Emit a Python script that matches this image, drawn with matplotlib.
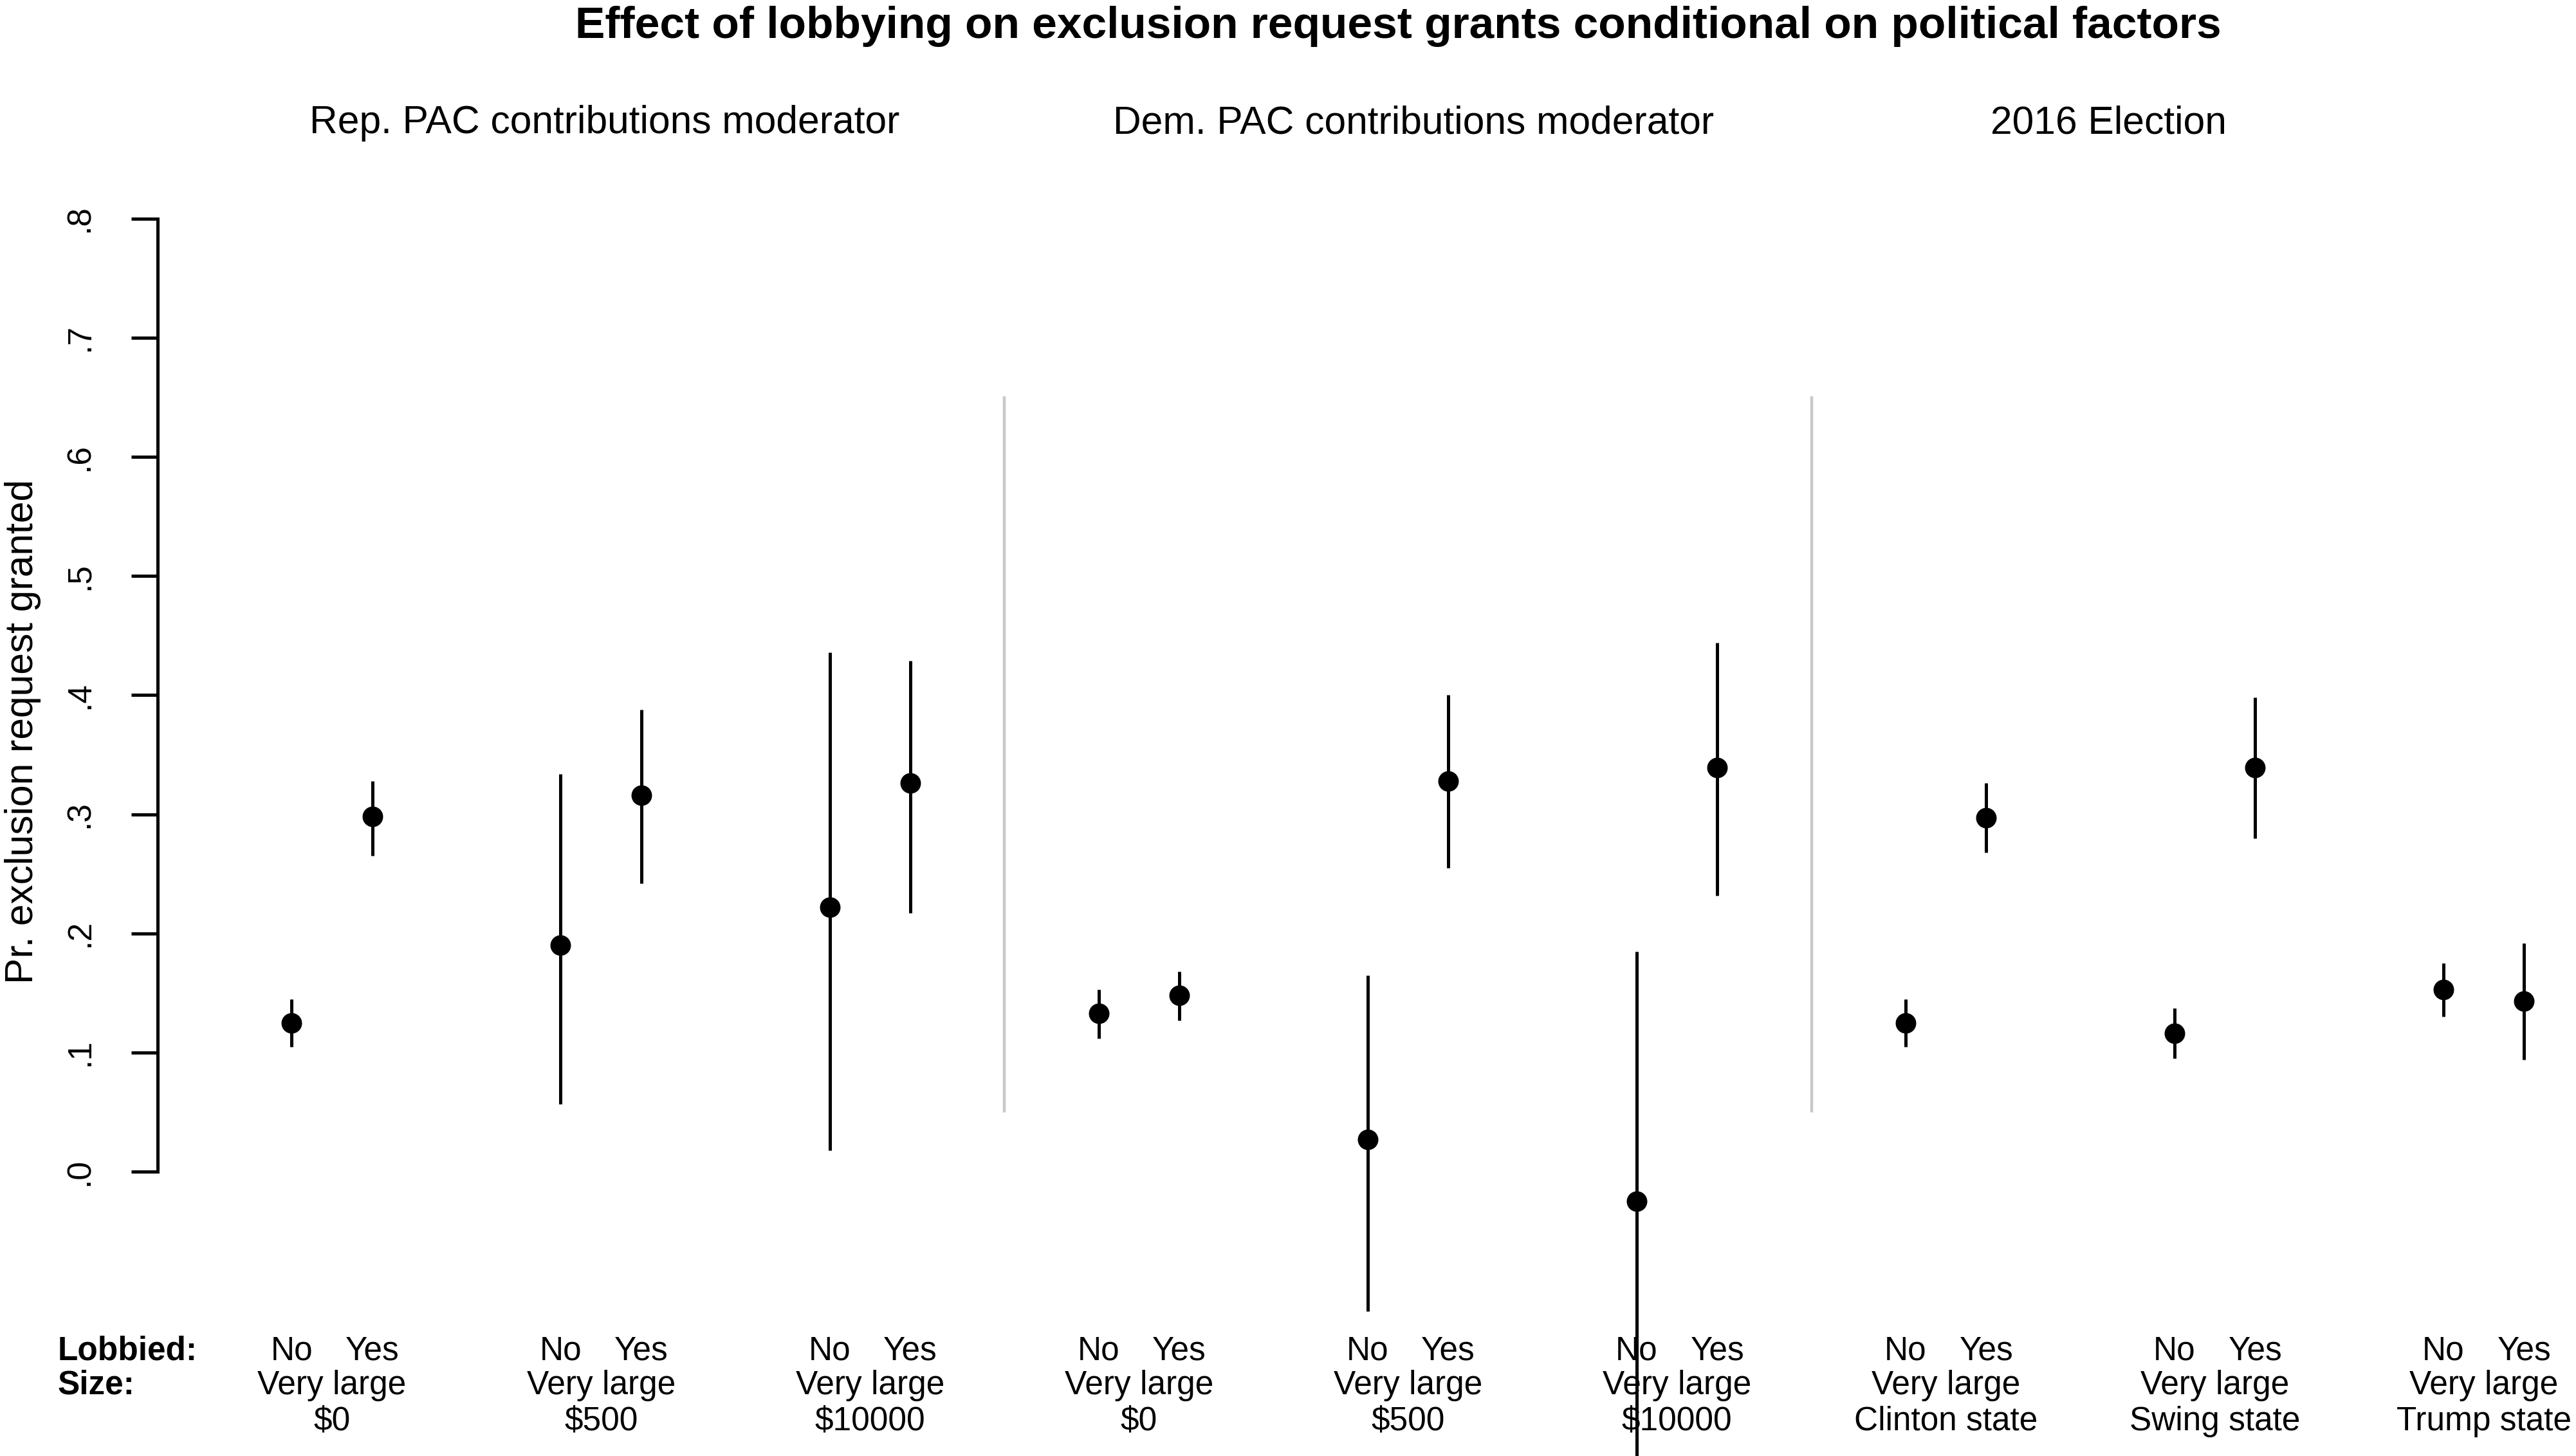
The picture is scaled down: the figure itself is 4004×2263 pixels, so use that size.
import numpy as np
import matplotlib.pyplot as plt
from matplotlib.transforms import blended_transform_factory

plt.rcParams['font.family'] = ['Liberation Sans', 'DejaVu Sans']

# Etiquetas de los paneles y de los grupos
panels = ['Rep. PAC contributions moderator',
          'Dem. PAC contributions moderator',
          '2016 Election']
groups = ['$0', '$500', '$10000',
          '$0', '$500', '$10000',
          'Clinton state', 'Swing state', 'Trump state']

# Estimaciones e intervalos (Lobbied: No)
est_no = [0.125, 0.190, 0.222, 0.133, 0.027, -0.025, 0.125, 0.116, 0.153]
lo_no = [0.105, 0.057, 0.018, 0.112, -0.117, -0.26, 0.105, 0.095, 0.130]
hi_no = [0.145, 0.334, 0.436, 0.153, 0.165, 0.185, 0.145, 0.137, 0.175]

# Estimaciones e intervalos (Lobbied: Yes)
est_yes = [0.298, 0.316, 0.326, 0.148, 0.328, 0.339, 0.297, 0.339, 0.143]
lo_yes = [0.265, 0.242, 0.217, 0.127, 0.255, 0.232, 0.268, 0.280, 0.094]
hi_yes = [0.328, 0.388, 0.429, 0.168, 0.400, 0.444, 0.326, 0.398, 0.192]

yticks = [0.0, 0.1, 0.2, 0.3, 0.4, 0.5, 0.6, 0.7, 0.8]
ytick_labels = ['.0', '.1', '.2', '.3', '.4', '.5', '.6', '.7', '.8']

W, H = 1568.0, 886.0  # medidas de referencia para colocar textos

fig = plt.figure(figsize=(20.025, 11.315), dpi=200)
ax = fig.add_axes([96 / W, 0.0, 1 - 96 / W, (H - 133) / H])

centers = np.arange(len(groups))
x_no = centers - 0.15
x_yes = centers + 0.15

# Separadores entre paneles
ax.vlines([2.5, 5.5], 0.05, 0.651, color='#c8c8c8', lw=1.6)

ax.vlines(x_no, lo_no, hi_no, color='black', lw=1.8)
ax.vlines(x_yes, lo_yes, hi_yes, color='black', lw=1.8)
ax.plot(x_no, est_no, 'o', color='black', ms=10.5)
ax.plot(x_yes, est_yes, 'o', color='black', ms=10.5)

ax.set_xlim(-0.648, 8.345)
ax.set_ylim(-0.2386, 0.8)

for s in ['top', 'right', 'bottom']:
    ax.spines[s].set_visible(False)
ax.spines['left'].set_bounds(0, 0.8)
ax.spines['left'].set_linewidth(1.8)
ax.set_xticks([])
ax.set_yticks(yticks)
ax.set_yticklabels(ytick_labels, rotation=90, va='center')
ax.tick_params(axis='y', length=14.7, width=1.8, pad=20, labelsize=18.5)

# Textos inferiores
tr = blended_transform_factory(ax.transData, fig.transFigure)
fs = 18.5
fig.text(35 / W, 1 - 822 / H, 'Lobbied:', fontsize=fs, fontweight='bold',
         ha='left', va='center')
fig.text(35 / W, 1 - 843 / H, 'Size:', fontsize=fs, fontweight='bold',
         ha='left', va='center')
for i, g in enumerate(groups):
    ax.text(x_no[i], 1 - 822 / H, 'No', transform=tr, fontsize=fs,
            ha='center', va='center')
    ax.text(x_yes[i], 1 - 822 / H, 'Yes', transform=tr, fontsize=fs,
            ha='center', va='center')
    ax.text(centers[i], 1 - 843 / H, 'Very large', transform=tr, fontsize=fs,
            ha='center', va='center')
    ax.text(centers[i], 1 - 865 / H, g, transform=tr, fontsize=fs,
            ha='center', va='center')

# Títulos
fig.text(851 / W, 1 - 16 / H,
         'Effect of lobbying on exclusion request grants conditional on political factors',
         fontsize=25, fontweight='bold', ha='center', va='center')
for px, p in zip([368, 860, 1283], panels):
    fig.text(px / W, 1 - 75 / H, p, fontsize=21.8, ha='center', va='center')

fig.text(14 / W, 1 - 445 / H, 'Pr. exclusion request granted', fontsize=21.8,
         rotation=90, ha='center', va='center')

fig.savefig('out.png', dpi=200)
